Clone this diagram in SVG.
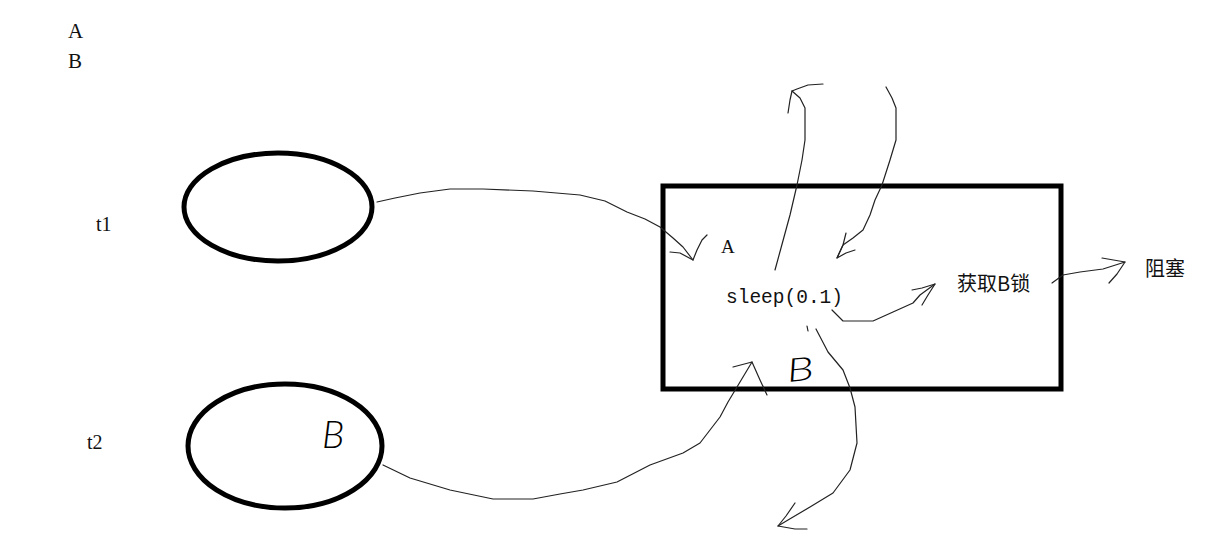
<svg xmlns="http://www.w3.org/2000/svg" width="1217" height="548" viewBox="0 0 1217 548">
  <style>
    .shape { fill: none; stroke: #000; stroke-width: 5; }
    .pen { fill: none; stroke: #222; stroke-width: 1.2; stroke-linejoin: round; stroke-linecap: round; }
    .serif { font-family: "Liberation Serif", "Noto Sans CJK SC", serif; fill: #111; }
    .mono { font-family: "Liberation Mono", "Noto Sans CJK SC", monospace; fill: #111; }
    .cjk { font-family: "Noto Sans CJK SC", "Liberation Sans", sans-serif; fill: #111; }
    .hand { font-family: "Lato", "Liberation Sans", sans-serif; font-style: italic; font-weight: 300; fill: #000; }
  </style>

  <rect width="1217" height="548" fill="#fff"/>

  <!-- lock legend -->
  <g id="legend">
    <text class="serif" x="68" y="38" font-size="21">A</text>
    <text class="serif" x="68" y="68" font-size="21">B</text>
  </g>

  <!-- thread t1 -->
  <g id="thread-t1">
    <ellipse class="shape" cx="278" cy="207" rx="94" ry="54"/>
    <text class="serif" x="96" y="231" font-size="20">t1</text>
  </g>

  <!-- thread t2, holding B -->
  <g id="thread-t2">
    <ellipse class="shape" cx="285" cy="446" rx="97" ry="62"/>
    <text class="serif" x="87" y="449" font-size="20">t2</text>
    <text class="hand" x="322" y="448" font-size="38">B</text>
  </g>

  <!-- critical section -->
  <g id="section">
    <rect class="shape" x="663" y="186" width="398" height="203"/>
    <text class="serif" x="721" y="253" font-size="19">A</text>
    <text class="mono" x="726" y="303" font-size="19.5">sleep(0.1)</text>
    <text class="hand" x="0" y="0" font-size="34" transform="translate(788 382) rotate(-6) scale(1.35 0.95)">B</text>
  </g>

  <g id="acquire-b">
    <text class="cjk" x="957" y="291" font-size="20">获取B锁</text>
  </g>

  <g id="blocked">
    <text class="cjk" x="1145" y="276" font-size="20">阻塞</text>
  </g>

  <!-- freehand connectors -->
  <g id="connectors">
    <!-- t1 to A -->
    <path class="pen" d="M377,202 L395,198 L420,193 L450,189 L483,189 L533,191 L580,195 L605,201 L627,212 L645,219 L660,227 L673,238 L683,247 L693,260"/>
    <path class="pen" d="M670,252 L680,253 L693,260 L697,250 L702,240 L707,235"/>

    <!-- t2 to B -->
    <path class="pen" d="M383,465 L410,478 L450,490 L493,499 L533,499 L560,494 L583,490 L617,482 L650,465 L683,453 L700,443 L710,430 L720,417 L728,402 L737,387 L752,362"/>
    <path class="pen" d="M733,367 L752,362 L760,380 L767,395"/>

    <!-- upward arrow out of the box -->
    <path class="pen" d="M775,270 L781,248 L790,215 L797,185 L802,160 L805,140 L805,108 L800,98 L792,91"/>
    <path class="pen" d="M788,113 L790,100 L792,91 L797,89 L808,85 L823,84"/>

    <!-- downward arrow into the box -->
    <path class="pen" d="M886,87 L892,98 L896,108 L896,140 L890,160 L882,185 L875,200 L870,215 L863,230 L853,238 L843,245 L837,258"/>
    <path class="pen" d="M846,233 L843,245 L837,258 L846,253 L855,250"/>

    <!-- sleep to 获取B锁 -->
    <path class="pen" d="M832,310 L843,321 L873,321 L893,312 L913,303 L920,295 L935,284"/>
    <path class="pen" d="M912,290 L922,288 L935,284 L928,295 L922,305"/>

    <!-- 获取B锁 to 阻塞 -->
    <path class="pen" d="M1052,283 L1063,275 L1080,272 L1103,269 L1125,262"/>
    <path class="pen" d="M1102,258 L1125,262 L1117,274 L1109,283"/>

    <!-- loop down and out of the box -->
    <path class="pen" d="M807,326 L808,331"/>
    <path class="pen" d="M816,329 L828,352 L843,370 L850,388 L855,407 L857,443 L850,470 L833,493 L810,507 L788,520 L778,526"/>
    <path class="pen" d="M795,503 L786,516 L778,526 L795,529 L807,529"/>
  </g>
</svg>
